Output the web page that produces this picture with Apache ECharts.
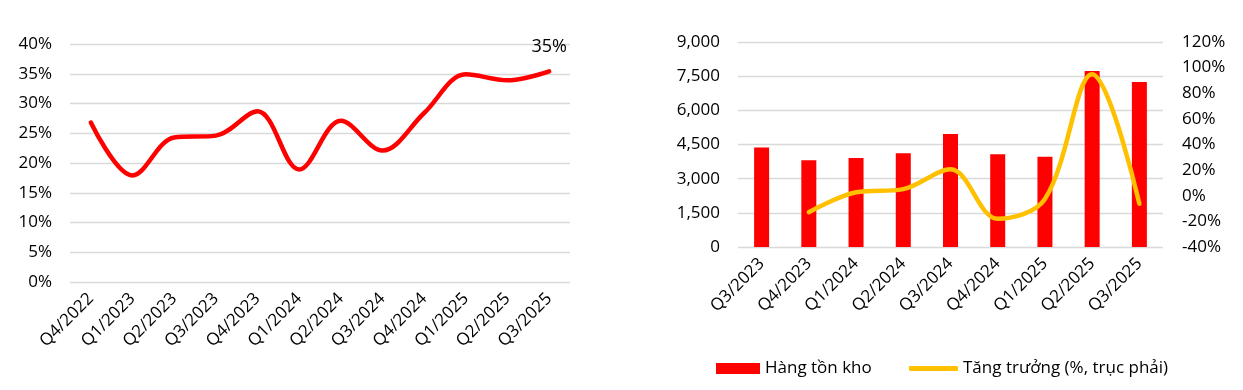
<!DOCTYPE html>
<html>
<head>
<meta charset="utf-8">
<script src="https://cdn.jsdelivr.net/npm/echarts@6/dist/echarts.min.js"></script>
<style>
html,body{margin:0;padding:0;background:#fff;}
#c{width:1243px;height:390px;}
</style>
</head>
<body>
<div id="c"></div>
<script>
// Left chart data
var leftCategories = ['Q4/2022','Q1/2023','Q2/2023','Q3/2023','Q4/2023','Q1/2024','Q2/2024','Q3/2024','Q4/2024','Q1/2025','Q2/2025','Q3/2025'];
var leftValues = [26.8, 17.9, 24.3, 24.6, 28.7, 18.9, 27.1, 22.1, 28.4, 34.9, 33.9, 35.4];

// Right chart data
var rightCategories = ['Q3/2023','Q4/2023','Q1/2024','Q2/2024','Q3/2024','Q4/2024','Q1/2025','Q2/2025','Q3/2025'];
var inventory = [4364, 3806, 3908, 4113, 4961, 4070, 3967, 7727, 7244];
var growth = [null, -12.8, 2.7, 5.2, 20.6, -18.0, -2.5, 94.8, -6.3];

var barName = 'Hàng tồn kho';
var lineName = 'Tăng trưởng (%, trục phải)';

var FONT = '"Open Sans", "Noto Sans", sans-serif';
var txt = {color:'#000', fontFamily: FONT, fontSize: 17};
var gridLine = {lineStyle:{color:'#d9d9d9', width:1.3}};

var leftData = leftValues.map(function(v, i){
  if (i === leftValues.length - 1) {
    return {value: v, label: {show: true}};
  }
  return v;
});

var chart = echarts.init(document.getElementById('c'), null, {renderer:'canvas'});
chart.setOption({
  backgroundColor: '#fff',
  animation: false,
  textStyle: {fontFamily: FONT},
  grid: [
    {left: 70, right: 673, top: 44, bottom: 108, containLabel: false},
    {left: 738, right: 80, top: 42, bottom: 143, containLabel: false}
  ],
  legend: [
    {data:[barName], left: 711, top: 355, itemWidth: 44, itemHeight: 11,
     icon: 'rect', textStyle: {color:'#000', fontFamily: FONT, fontSize: 17}},
    {data:[lineName], left: 904, top: 355, itemWidth: 49, itemHeight: 5,
     icon: 'roundRect', textStyle: {color:'#000', fontFamily: FONT, fontSize: 17}}
  ],
  xAxis: [
    {type:'category', gridIndex:0, data: leftCategories, boundaryGap: true,
     axisLine:{show:false}, axisTick:{show:false},
     axisLabel: Object.assign({rotate:45, margin:14, interval:0}, txt)},
    {type:'category', gridIndex:1, data: rightCategories, boundaryGap: true,
     axisLine:{show:false}, axisTick:{show:false},
     axisLabel: Object.assign({rotate:45, margin:14, interval:0}, txt)}
  ],
  yAxis: [
    {type:'value', gridIndex:0, min:0, max:40, interval:5,
     axisLine:{show:false}, axisTick:{show:false}, splitLine: gridLine,
     axisLabel: Object.assign({margin:18, formatter:'{value}%'}, txt)},
    {type:'value', gridIndex:1, min:0, max:9000, interval:1500,
     axisLine:{show:false}, axisTick:{show:false}, splitLine: gridLine,
     axisLabel: Object.assign({margin:18, formatter:function(v){return v.toLocaleString('en-US');}}, txt)},
    {type:'value', gridIndex:1, min:-40, max:120, interval:20, position:'right',
     axisLine:{show:false}, axisTick:{show:false}, splitLine:{show:false},
     axisLabel: Object.assign({margin:19, formatter:'{value}%'}, txt)}
  ],
  series: [
    {type:'line', name:'Biên', xAxisIndex:0, yAxisIndex:0, data: leftData,
     smooth: 0.35, symbol:'circle', symbolSize: 1, showSymbol: true,
     lineStyle:{color:'#ff0000', width:4.5, cap:'round'},
     itemStyle:{color:'#ff0000'},
     label:{show:false, position:'top', distance: 15, color:'#000', fontFamily: FONT, fontSize: 18,
       formatter: function(p){ return Math.round(p.value) + '%'; }}},
    {type:'bar', name: barName, xAxisIndex:1, yAxisIndex:1, data: inventory,
     barWidth: 15, itemStyle:{color:'#ff0000'}},
    {type:'line', name: lineName, xAxisIndex:1, yAxisIndex:2, data: growth,
     smooth: 0.35, showSymbol:false, connectNulls:false,
     lineStyle:{color:'#ffc000', width:4.5, cap:'round'},
     itemStyle:{color:'#ffc000'}}
  ]
});
</script>
</body>
</html>
